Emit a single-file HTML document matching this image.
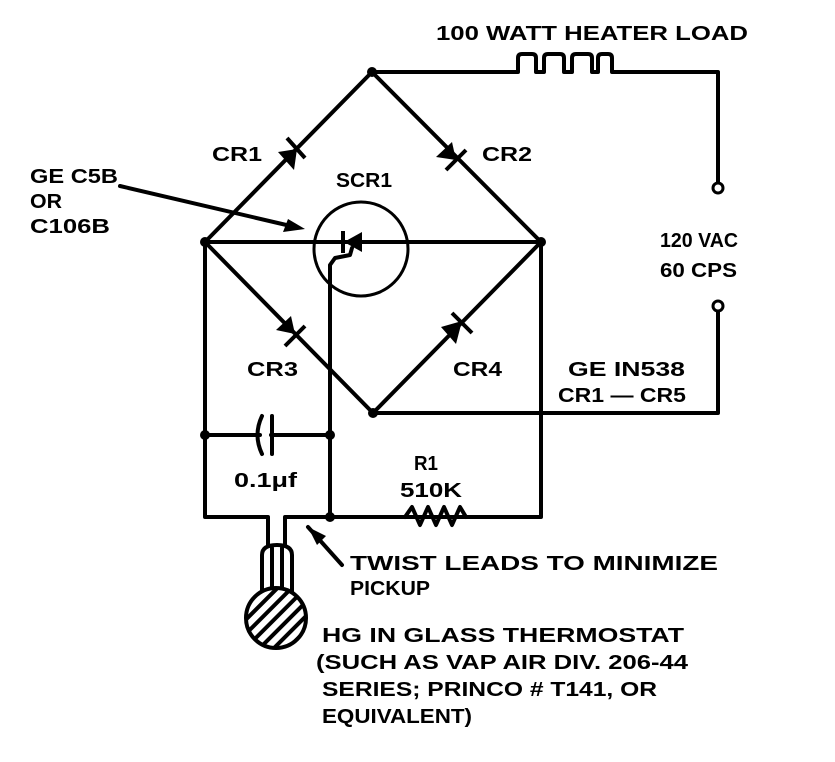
<!DOCTYPE html>
<html><head><style>
body{margin:0;background:#fff}
svg text{font-family:"Liberation Sans",sans-serif;font-weight:bold;fill:#000}
</style></head><body>
<svg width="835" height="757" viewBox="0 0 835 757" xmlns="http://www.w3.org/2000/svg">
<defs><pattern id="h" width="10" height="10" patternUnits="userSpaceOnUse" patternTransform="rotate(-45)"><rect width="10" height="10" fill="#fff"/><rect width="10" height="4" fill="#000"/></pattern></defs>
<g stroke="#000" stroke-width="4" fill="none" stroke-linecap="round" stroke-linejoin="round">
<path d="M205,242 L372,72 L541,242 L373,413 Z"/>
<path d="M205,242 L541,242"/>
<path d="M372,72 L518,72 L518,58 Q518,54 522,54 L532,54 Q536,54 536,58 L536,72 M544,72 L544,58 Q544,54 548,54 L560,54 Q564,54 564,58 L564,72 M536,72 L544,72 M564,72 L572,72 L572,58 Q572,54 576,54 L588,54 Q592,54 592,58 L592,72 L598,72 L598,58 Q598,54 602,54 L608,54 Q612,54 612,58 L612,72 L718,72 L718,183"/>
<path d="M373,413 L718,413 L718,311"/>
<path d="M205,242 L205,517 L268,517 L268,545 M285,545 L285,517 L541,517 L541,242"/>
<path d="M205,435 L260,435 M271,435 L330,435"/>
<path d="M262,416 Q253,435 262,454 M272,416 L272,454"/>
<path d="M330,517 L330,265 L335,258 L350,255 L352,248"/>
<circle cx="361" cy="249" r="47" stroke-width="3"/>
<path d="M405,517 L412,507 L420,525 L428,507 L436,525 L444,507 L452,525 L460,507 L466,517" fill="none"/>
<path d="M120,186 L295,227"/>
<path d="M308,527 L342,565"/>
<path d="M262,600 L262,555 Q262,545 277,545 Q292,545 292,555 L292,600"/>
<path d="M272,548 L272,600 M282,548 L282,600"/>
</g>
<g fill="#000">
<circle cx="372" cy="72" r="5"/><circle cx="205" cy="242" r="5"/><circle cx="541" cy="242" r="5"/><circle cx="373" cy="413" r="5"/>
<circle cx="205" cy="435" r="5"/><circle cx="330" cy="435" r="5"/><circle cx="330" cy="517" r="5"/>
<polygon points="305,229 283,232 288,219"/>
<polygon points="308,527 326,536 317,545"/>
<polygon points="344,242 362,232 362,252"/><rect x="341" y="231" width="4" height="22"/>
<polygon points="297,149 278,152 294,170"/><path d="M287,138 L305,158" stroke="#000" stroke-width="4"/>
<polygon points="456,160 436,157 452,142"/><path d="M446,170 L466,150" stroke="#000" stroke-width="4"/>
<polygon points="295,334 276,330 291,316"/><path d="M285,346 L305,326" stroke="#000" stroke-width="4"/>
<polygon points="462,321 441,327 456,344"/><path d="M452,313 L472,333" stroke="#000" stroke-width="4"/>
</g>
<circle cx="718" cy="188" r="5" fill="#fff" stroke="#000" stroke-width="3"/>
<circle cx="718" cy="306" r="5" fill="#fff" stroke="#000" stroke-width="3"/>
<circle cx="276" cy="618" r="30" fill="url(#h)" stroke="#000" stroke-width="4"/>
<g font-size="20" lengthAdjust="spacingAndGlyphs">
<text x="436" y="40" textLength="312" lengthAdjust="spacingAndGlyphs">100 WATT HEATER LOAD</text>
<text x="212" y="161" textLength="50" lengthAdjust="spacingAndGlyphs">CR1</text>
<text x="482" y="161" textLength="50" lengthAdjust="spacingAndGlyphs">CR2</text>
<text x="336" y="187" textLength="56" lengthAdjust="spacingAndGlyphs">SCR1</text>
<text x="30" y="183" textLength="88" lengthAdjust="spacingAndGlyphs">GE C5B</text>
<text x="30" y="208" textLength="32" lengthAdjust="spacingAndGlyphs">OR</text>
<text x="30" y="233" textLength="80" lengthAdjust="spacingAndGlyphs">C106B</text>
<text x="660" y="247" textLength="78" lengthAdjust="spacingAndGlyphs">120 VAC</text>
<text x="660" y="277" textLength="77" lengthAdjust="spacingAndGlyphs">60 CPS</text>
<text x="247" y="376" textLength="51" lengthAdjust="spacingAndGlyphs">CR3</text>
<text x="453" y="376" textLength="49" lengthAdjust="spacingAndGlyphs">CR4</text>
<text x="568" y="376" textLength="117" lengthAdjust="spacingAndGlyphs">GE IN538</text>
<text x="558" y="402" textLength="128" lengthAdjust="spacingAndGlyphs">CR1 — CR5</text>
<text x="234" y="487" textLength="63" lengthAdjust="spacingAndGlyphs">0.1μf</text>
<text x="414" y="470" textLength="24" lengthAdjust="spacingAndGlyphs">R1</text>
<text x="400" y="497" textLength="62" lengthAdjust="spacingAndGlyphs">510K</text>
<text x="350" y="570" textLength="368" lengthAdjust="spacingAndGlyphs">TWIST LEADS TO MINIMIZE</text>
<text x="350" y="595" textLength="80" lengthAdjust="spacingAndGlyphs">PICKUP</text>
<text x="322" y="642" textLength="362" lengthAdjust="spacingAndGlyphs">HG IN GLASS THERMOSTAT</text>
<text x="316" y="669" textLength="372" lengthAdjust="spacingAndGlyphs">(SUCH AS VAP AIR DIV. 206-44</text>
<text x="322" y="696" textLength="335" lengthAdjust="spacingAndGlyphs">SERIES; PRINCO # T141, OR</text>
<text x="322" y="723" textLength="150" lengthAdjust="spacingAndGlyphs">EQUIVALENT)</text>
</g>
</svg>
</body></html>
